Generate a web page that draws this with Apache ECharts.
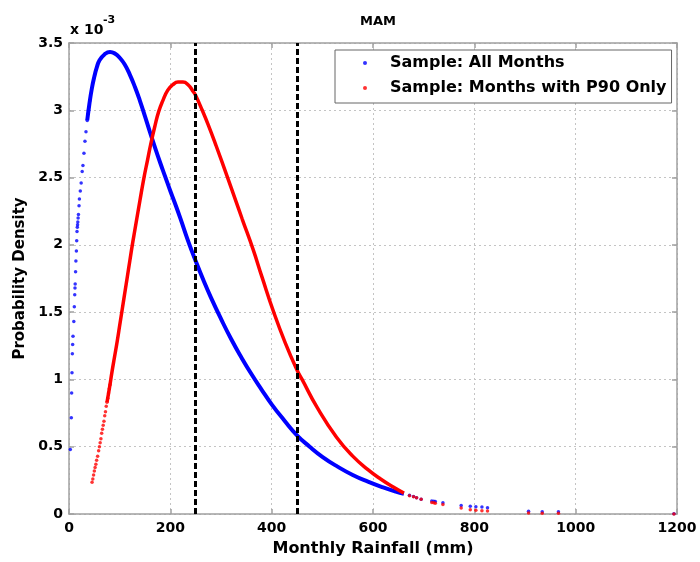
<!DOCTYPE html>
<html><head><meta charset="utf-8">
<script src="https://cdn.jsdelivr.net/npm/echarts@6/dist/echarts.min.js"></script>
<style>html,body{margin:0;padding:0;background:#fff}#c{width:700px;height:562px}</style>
</head><body><div id="c"></div>
<script>
// values in units of 1e-3 (as shown by the "x 10^-3" axis multiplier)
const allMonthsSparse = [[2.6,0.48],[4.6,0.715],[5.2,0.90],[5.9,1.05],[6.6,1.19],[7.2,1.26],[7.9,1.32],[9.5,1.43],[10.5,1.54],[11.3,1.63],[11.8,1.68],[12.2,1.71],[13,1.80],[13.6,1.88],[14.6,1.955],[15.2,2.03],[15.8,2.10],[16.4,2.13],[16.9,2.15],[17.4,2.17],[18,2.20],[18.6,2.225],[19.8,2.29],[20.5,2.34],[22.3,2.40],[24,2.46],[26,2.545],[27.5,2.59],[29.5,2.68],[31.5,2.77],[33.5,2.84],[36,2.925],[38.5,3.0],[41,3.07]];
const allMonthsCurve = [[36,2.925],[40,3.04],[45,3.16],[50,3.25],[55,3.32],[60,3.37],[70,3.415],[81,3.434],[92,3.418],[100,3.39],[110,3.34],[120,3.265],[130,3.175],[140,3.07],[150,2.955],[160,2.835],[170,2.72],[180,2.61],[190,2.505],[200,2.40],[210,2.30],[220,2.195],[235,2.03],[250,1.88],[265,1.74],[280,1.61],[300,1.45],[320,1.30],[340,1.165],[360,1.04],[380,0.925],[400,0.815],[425,0.695],[450,0.585],[475,0.50],[500,0.425],[530,0.352],[560,0.29],[590,0.24],[620,0.197],[645,0.166],[661,0.15]];
const allMonthsTail = [[672,0.14],[680,0.13],[686,0.12],[695,0.11],[716,0.096],[720,0.094],[723,0.092],[738,0.083],[774,0.064],[792,0.057],[803,0.054],[815,0.052],[826,0.047],[907,0.02],[934,0.017],[966,0.016],[1194,0.001]];
const p90Sparse = [[45.5,0.236],[47,0.26],[48.5,0.29],[50,0.32],[51.5,0.345],[53,0.37],[54.5,0.40],[56.5,0.43],[58.5,0.47],[60,0.50],[61.5,0.53],[63,0.56],[64.5,0.60],[66,0.63],[67.5,0.66],[69,0.69],[70.5,0.73],[72,0.76],[73.5,0.80],[75,0.83],[76.5,0.86],[78,0.90],[79.5,0.93],[81,0.96]];
const p90Curve = [[75,0.83],[80,0.94],[85,1.06],[90,1.17],[95,1.28],[100,1.40],[105,1.52],[110,1.64],[115,1.76],[120,1.88],[125,2.0],[130,2.11],[140,2.33],[148,2.5],[155,2.63],[162,2.76],[170,2.89],[177,2.99],[185,3.07],[195,3.15],[205,3.19],[215,3.21],[225,3.21],[235,3.19],[245,3.14],[250,3.11],[263,3.0],[275,2.89],[290,2.74],[313,2.5],[328,2.34],[342,2.19],[363,1.97],[381,1.76],[404,1.5],[427,1.27],[450,1.07],[460,1.0],[490,0.79],[528,0.57],[560,0.43],[590,0.33],[615,0.26],[640,0.20],[661,0.155]];
const p90Tail = [[672,0.135],[680,0.128],[686,0.12],[695,0.11],[716,0.085],[720,0.083],[723,0.08],[738,0.071],[774,0.044],[792,0.032],[803,0.027],[815,0.025],[826,0.022],[907,0.007],[934,0.005],[966,0.005],[1194,0.0005]];
const thresholds = [250, 450];
const seriesNames = ['Sample: All Months', 'Sample: Months with P90 Only'];
const titleText = 'MAM';
const xName = 'Monthly Rainfall (mm)';
const yName = 'Probability Density';

const BLUE = '#0000ff', RED = '#ff0000';
const FONT = '"DejaVu Sans", sans-serif';
const AX = '#a0a0a0';

const chart = echarts.init(document.getElementById('c'), null, {renderer: 'canvas'});

function axisCommon(extra) {
  return Object.assign({
    type: 'value',
    axisLine: {show: true, onZero: false, lineStyle: {color: AX, width: 1.5}},
    axisTick: {show: true, inside: true, length: 5, lineStyle: {color: AX, width: 1.5}},
    splitLine: {show: false},
    axisLabel: {show: false}
  }, extra);
}

chart.setOption({
  animation: false,
  backgroundColor: '#fff',
  title: {text: titleText, left: 373, top: 10, textAlign: 'center',
    textStyle: {fontFamily: FONT, fontWeight: 'bold', fontSize: 13, color: '#000'}},
  graphic: [
    {type: 'text', left: 70, top: 23, style: {text: 'x 10', font: 'bold 14px "DejaVu Sans"', fill: '#000'}},
    {type: 'text', left: 103, top: 15, style: {text: '-3', font: 'bold 11px "DejaVu Sans"', fill: '#000'}}
  ],
  legend: {
    orient: 'vertical', left: 335, top: 50,
    padding: [4, 5, 6, 28], itemGap: 7,
    itemWidth: 40, itemHeight: 4,
    backgroundColor: '#fff', borderColor: '#666', borderWidth: 1,
    textStyle: {fontFamily: FONT, fontWeight: 'bold', fontSize: 16, color: '#000', lineHeight: 18},
    data: [{name: seriesNames[0], icon: 'circle'}, {name: seriesNames[1], icon: 'circle'}]
  },
  grid: {left: 69, right: 23, top: 43, bottom: 45, containLabel: false},
  xAxis: [
    axisCommon({
      min: 0, max: 1200, interval: 200, position: 'bottom',
      name: xName, nameLocation: 'middle', nameGap: 27,
      nameTextStyle: {fontFamily: FONT, fontWeight: 'bold', fontSize: 16, color: '#000'},
      axisLabel: {show: true, margin: 7, fontFamily: FONT, fontWeight: 'bold', fontSize: 14, color: '#000',
        formatter: v => String(v)},
      splitLine: {show: true, lineStyle: {color: '#c4c4c4', type: [2, 3], width: 1}}
    }),
    axisCommon({min: 0, max: 1200, interval: 200, position: 'top'})
  ],
  yAxis: [
    axisCommon({
      min: 0, max: 3.5, interval: 0.5, position: 'left',
      name: yName, nameLocation: 'middle', nameGap: 35,
      nameTextStyle: {fontFamily: FONT, fontWeight: 'bold', fontSize: 15, color: '#000'},
      axisLabel: {show: true, margin: 6, fontFamily: FONT, fontWeight: 'bold', fontSize: 14, color: '#000',
        formatter: v => String(v)},
      splitLine: {show: true, lineStyle: {color: '#c4c4c4', type: [2, 3], width: 1}}
    }),
    axisCommon({min: 0, max: 3.5, interval: 0.5, position: 'right'})
  ],
  series: [
    {name: seriesNames[0] + ' curve', type: 'line', data: allMonthsCurve, smooth: 0.5, showSymbol: false,
      lineStyle: {color: BLUE, width: 4}, itemStyle: {color: BLUE}, z: 2, silent: true},
    {name: seriesNames[0], type: 'scatter', data: allMonthsSparse.concat(allMonthsTail), symbol: 'circle', symbolSize: 3.5,
      itemStyle: {color: BLUE}, z: 2},
    {name: seriesNames[1] + ' curve', type: 'line', data: p90Curve, smooth: 0.5, showSymbol: false,
      lineStyle: {color: RED, width: 3.5}, itemStyle: {color: RED}, z: 3, silent: true},
    {name: seriesNames[1], type: 'scatter', data: p90Sparse.concat(p90Tail), symbol: 'circle', symbolSize: 3.5,
      itemStyle: {color: RED}, z: 3},
    {name: 'thresholds', type: 'line', data: [], z: 5,
      markLine: {silent: true, symbol: 'none', label: {show: false},
        lineStyle: {color: '#000', width: 3, type: [6, 3]},
        data: thresholds.map(v => ({xAxis: v}))}}
  ]
});
</script>
</body></html>
